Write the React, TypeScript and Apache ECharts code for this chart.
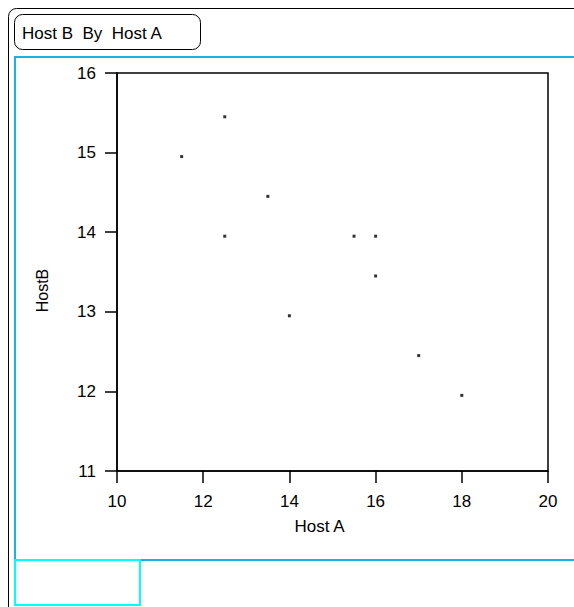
import React, { useEffect, useRef } from "react";
import * as echarts from "echarts";

const titleText = "Host B  By  Host A";
const xName = "Host A";
const yName = "HostB";
const hostA = [12.5, 11.5, 13.5, 12.5, 15.5, 16, 16, 14, 17, 18];
const hostB = [15.45, 14.95, 14.45, 13.95, 13.95, 13.95, 13.45, 12.95, 12.45, 11.95];

export default function App() {
  const ref = useRef<HTMLDivElement>(null);
  useEffect(() => {
    const chart = echarts.init(ref.current!, null, { renderer: "svg" });
    const font = "Liberation Sans, Arial, sans-serif";
    chart.setOption({
      animation: false,
      backgroundColor: "#ffffff",
      textStyle: { fontFamily: font },
      grid: {
        left: 117,
        right: 26,
        top: 73,
        bottom: 136,
        show: true,
        borderColor: "#000",
        borderWidth: 1.5,
      },
      xAxis: {
        type: "value",
        min: 10,
        max: 20,
        interval: 2,
        name: xName,
        nameLocation: "middle",
        nameGap: 47,
        nameTextStyle: { fontSize: 17, color: "#000", fontFamily: font, padding: [0, 26, 0, 0] },
        axisLine: { lineStyle: { color: "#000", width: 1.5 } },
        axisTick: { show: true, length: 12, lineStyle: { color: "#000", width: 1.5 } },
        axisLabel: { fontSize: 17, color: "#000", margin: 22, fontFamily: font },
        splitLine: { show: false },
      },
      yAxis: {
        type: "value",
        min: 11,
        max: 16,
        interval: 1,
        name: yName,
        nameLocation: "middle",
        nameGap: 67,
        nameTextStyle: { fontSize: 16, color: "#000", fontFamily: font, padding: [0, 37, 0, 0] },
        axisLine: { lineStyle: { color: "#000", width: 1.5 } },
        axisTick: { show: true, length: 12, lineStyle: { color: "#000", width: 1.5 } },
        axisLabel: { fontSize: 17, color: "#000", margin: 21, fontFamily: font },
        splitLine: { show: false },
      },
      series: [
        {
          type: "scatter",
          symbol: "rect",
          symbolSize: 3,
          itemStyle: { color: "#000" },
          data: hostA.map((a, i) => [a, hostB[i]]),
        },
      ],
      graphic: [
        {
          type: "rect",
          shape: { x: 8.5, y: 8.5, width: 620, height: 640, r: 8 },
          style: { fill: "none", stroke: "#000", lineWidth: 1 },
          z: 10,
        },
        {
          type: "rect",
          shape: { x: 14.5, y: 14.5, width: 186, height: 35, r: 8 },
          style: { fill: "none", stroke: "#000", lineWidth: 1 },
          z: 10,
        },
        {
          type: "text",
          x: 22,
          y: 33,
          style: {
            text: titleText,
            font: "17px Liberation Sans, Arial, sans-serif",
            fill: "#000",
            verticalAlign: "middle",
          },
          z: 10,
        },
        {
          type: "rect",
          shape: { x: 15, y: 57, width: 600, height: 503 },
          style: { fill: "none", stroke: "#1ab0e8", lineWidth: 2 },
          z: 10,
        },
        {
          type: "rect",
          shape: { x: 15, y: 560, width: 125, height: 45 },
          style: { fill: "none", stroke: "#00ffff", lineWidth: 2 },
          z: 11,
        },
      ],
    });
    return () => chart.dispose();
  }, []);
  return (
    <div
      ref={ref}
      style={{ position: "fixed", left: 0, top: 0, width: 574, height: 607 }}
    />
  );
}
